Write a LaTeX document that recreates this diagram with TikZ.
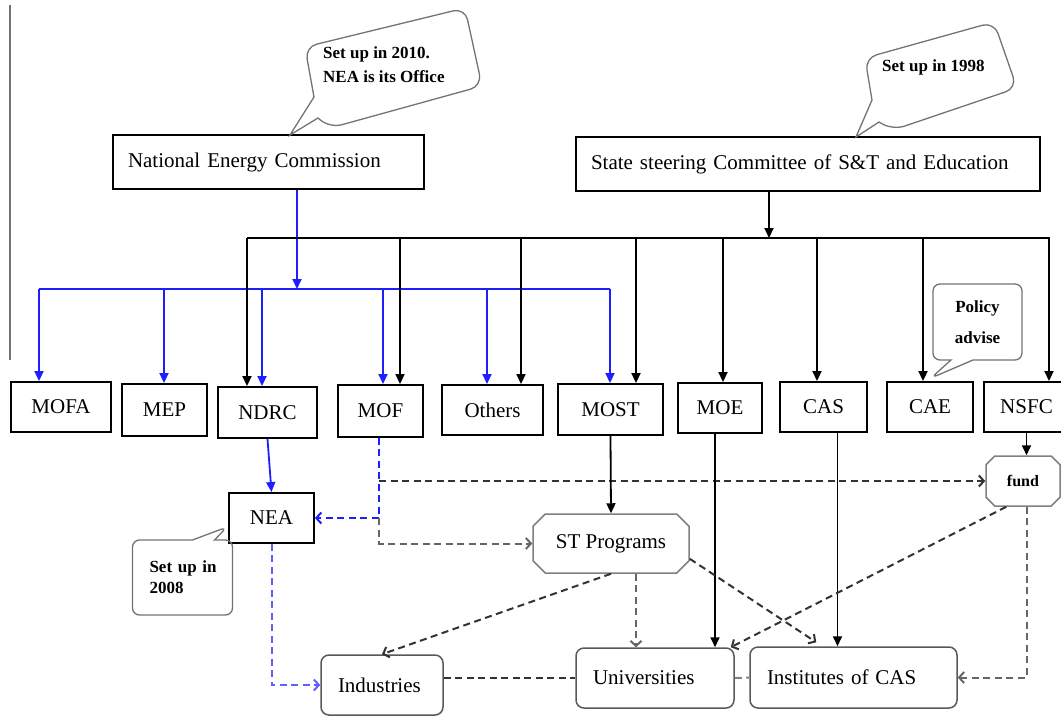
\documentclass[tikz,border=0pt]{standalone}
\usepackage{fontspec}
\setmainfont{Liberation Serif}
\usepackage{tikz}
\usetikzlibrary{calc}
\usetikzlibrary{arrows.meta}
\usetikzlibrary{positioning,shapes.misc,shapes.callouts}
\definecolor{necblue}{RGB}{30,30,255}
\definecolor{neablue}{RGB}{95,95,255}
\colorlet{notegray}{black!55}

\begin{document}
\begin{tikzpicture}[
x=1pt, y=-1pt,
Agency/.style={draw, line width=1.9pt, inner sep=0pt, minimum height=50pt, font=\fontsize{21}{25}\selectfont},
Head/.style={Agency, minimum height=54pt, inner xsep=15pt, align=left},
Actor/.style={draw=black!65, line width=1.5pt, rounded corners=8pt, inner ysep=0pt, inner xsep=17pt, minimum height=60pt, align=left, font=\fontsize{21}{25}\selectfont},
Octa/.style={chamfered rectangle, chamfered rectangle xsep=13pt, draw=black!50, line width=1.5pt, inner sep=0pt},
Note/.style={font=\bfseries\fontsize{17}{24}\selectfont, align=left, inner sep=0pt},
NoteLine/.style={draw=notegray, line width=1.3pt},
SolidArrow/.style={line width=1.8pt, -{Triangle[length=10pt,width=9pt]}},
BlueSolid/.style={SolidArrow, draw=necblue},
DashLine/.style={line width=2pt, draw=black!80, dash pattern=on 7pt off 4.5pt},
DashArrow/.style={DashLine, -{Straight Barb[length=5pt,width=11pt]}},
GrayDash/.style={DashArrow, draw=black!60},
BlueDash/.style={DashArrow, draw=necblue}
]
\useasboundingbox (0,0) rectangle (1061,716);
\clip (0,0) rectangle (1061,716);

\draw[notegray, line width=1.2pt] (10,5) -- (10,360);

% the two commissions
\node[Head, text width=281pt] (NEC) at (268.5,162) {National Energy Commission};
\node[Head, text width=434pt] (SSC) at (808,164) {State steering Committee of S\&T and Education};

% notes on top
\draw[NoteLine] (290,135) -- (314,97) [rounded corners=12pt] -- (305,47) -- (465,8) -- (482,86) -- (330,128) [sharp corners] -- (318,118) -- cycle;
\node[Note, anchor=west] (note10) at (323,65) {Set up in 2010.\\NEA is its Office};

\draw[NoteLine] (856,137) -- (872,100) [rounded corners=12pt] -- (865,58) -- (994,22) -- (1017,88) -- (893,130) [sharp corners] -- (879,122) -- cycle;
\node[Note, anchor=west] (note98) at (882,67) {Set up in 1998};

% ministries
\node[Agency, minimum width=100pt] (MOFA) at (61,407) {MOFA};
\node[Agency, minimum width=85pt, minimum height=52pt] (MEP) at (164.5,410) {MEP};
\node[Agency, minimum width=99pt, minimum height=51pt] (NDRC) at (267.5,412.5) {NDRC};
\node[Agency, minimum width=85pt, minimum height=52pt] (MOF) at (380.5,411) {MOF};
\node[Agency, minimum width=101pt] (Others) at (492.5,410) {Others};
\node[Agency, minimum width=105pt, minimum height=51pt] (MOST) at (610.5,409.5) {MOST};
\node[Agency, minimum width=84pt] (MOE) at (720,408) {MOE};
\node[Agency, minimum width=87pt] (CAS) at (823.5,407) {CAS};
\node[Agency, minimum width=86pt] (CAE) at (930,407) {CAE};
\node[Agency, minimum width=85pt] (NSFC) at (1026.5,407) {NSFC};
\node[Agency, minimum width=85pt] (NEA) at (271.5,518) {NEA};

\node[Octa, minimum width=156pt, minimum height=59pt, font=\fontsize{21}{25}\selectfont] (ST) at (611,543.5) {ST Programs};
\node[Octa, minimum width=74pt, minimum height=50pt, font=\bfseries\fontsize{16}{20}\selectfont] (fund) at (1023,481) {fund};

\node[Actor, text width=88pt] (Ind) at (382,685) {Industries};
\node[Actor, text width=124pt] (Univ) at (655,678) {Universities};
\node[Actor, text width=173pt, minimum height=61pt] (Inst) at (853.5,677.5) {Institutes of CAS};

\node[rectangle callout, Note, NoteLine, rounded corners=7pt, callout absolute pointer={(227,527)}, callout pointer width=22pt, font=\bfseries\fontsize{17}{21}\selectfont, text width=78pt, inner xsep=11pt, minimum height=75pt] (note08) at (182.5,577.5) {\hspace*{6pt}Set up in\\\hspace*{6pt}2008};
\node[rectangle callout, Note, NoteLine, rounded corners=7pt, callout absolute pointer={(931,378)}, callout pointer width=22pt, font=\bfseries\fontsize{17}{31}\selectfont, align=center, minimum width=89pt, minimum height=76pt] (policy) at (977.5,322) {Policy\\advise};

% blue branch
\coordinate (nb) at (297,289);
\coordinate (bl) at (39,289);
\coordinate (br) at (610,289);
\draw[BlueSolid] (nb |- NEC.south) -- (nb);
\draw[necblue, line width=1.8pt] (bl) -- (br);
\foreach \x/\n in {39/MOFA,164/MEP,262/NDRC,383/MOF,487/Others,610/MOST}{
  \coordinate (d) at (\x,289);
  \draw[BlueSolid] (d) -- (d |- \n.north);
}

% black branch
\coordinate (sb) at (769,238);
\coordinate (kl) at (247,238);
\coordinate (kr) at (1050,238);
\draw[SolidArrow] (sb |- SSC.south) -- (sb);
\draw[line width=1.8pt] (kl) -- (kr);
\foreach \x/\n in {247/NDRC,400/MOF,521/Others,636/MOST,723/MOE,817/CAS,923/CAE,1049/NSFC}{
  \coordinate (d) at (\x,238);
  \draw[SolidArrow] (d) -- (d |- \n.north);
}

\draw[BlueSolid] (NDRC.south) -- (NEA.north);

% money from MOF
\coordinate (mf) at (379,518);
\coordinate (mg) at (379,481);
\draw[BlueDash] (mf |- MOF.south) -- (mf) -- (NEA.east);
\draw[GrayDash] (mf) -- (mf |- ST.west) -- (ST.west);
\draw[DashArrow] (mg) -- (fund.west);

\draw[SolidArrow] (MOST.south) -- (ST.north);
\draw[SolidArrow] (NSFC.south) -- (NSFC.south |- fund.north);
\draw[SolidArrow] ($(MOE.south)+(-5,0)$) coordinate (me) -- (me |- Univ.north);
\draw[SolidArrow] ($(CAS.south)+(14,0)$) coordinate (ca) -- (ca |- Inst.north);

\draw[DashArrow] (ST.south) -- (Ind.north);
\draw[GrayDash] ($(ST.south)+(25,0)$) coordinate (su) -- (su |- Univ.north);
\draw[DashArrow] (ST.-11) -- ($(Inst.north west)+(67,-4)$);

\draw[DashArrow] (fund.-123) -- ($(Univ.north east)+(-4,0)$);
\draw[GrayDash] (NSFC.south |- fund.south) -- (NSFC.south |- Inst.east) -- (Inst.east);

\draw[BlueDash, draw=neablue] (NEA.south) -- (NEA.south |- Ind.west) -- (Ind.west);

\draw[DashLine] (Ind.east |- Univ.west) -- (Univ.west);
\draw[DashLine, draw=black!50] (Univ.east) -- (Inst.west);

\end{tikzpicture}
\end{document}
